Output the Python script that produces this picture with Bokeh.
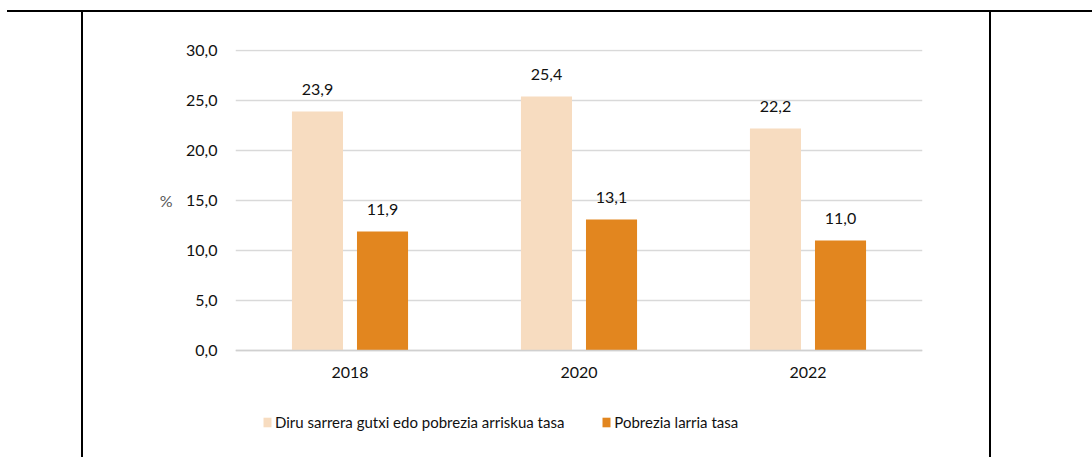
from bokeh.plotting import figure
from bokeh.models import (FactorRange, Range1d, ColumnDataSource, LabelSet, Legend,
                          LegendItem, FixedTicker, LinearAxis)
from bokeh.transform import dodge
from bokeh.core.properties import value
from bokeh.embed import file_html
from bokeh.resources import INLINE

years = ["2018", "2020", "2022"]
risk_rate = [23.9, 25.4, 22.2]
severe_rate = [11.9, 13.1, 11.0]
y_ticks = [0, 5, 10, 15, 20, 25, 30]
unit_label = "%"
series_names = ["Diru sarrera gutxi edo pobrezia arriskua tasa", "Pobrezia larria tasa"]

LIGHT = "#F7DCC0"
DARK = "#E2861F"
FONT = "Lato"
TXT = "#111111"

def fmt(v):
    return f"{v:.1f}".replace(".", ",")

src = ColumnDataSource(dict(
    year=years,
    risk=risk_rate,
    severe=severe_rate,
    risk_lbl=[fmt(v) for v in risk_rate],
    severe_lbl=[fmt(v) for v in severe_rate],
))

# frame spans 49..457 px vertically; 10 px per unit, zero at 350 px
p = figure(width=1092, height=457, x_range=FactorRange(*years, range_padding=0),
           y_range=Range1d(-10.7, 30.1), output_backend="svg", toolbar_location=None,
           min_border_left=235, min_border_right=170, min_border_top=49,
           min_border_bottom=0)
p.outline_line_color = None
p.background_fill_color = "white"
p.border_fill_color = "white"

off = 0.142
bw = 0.223
r1 = p.vbar(x=dodge("year", -off, range=p.x_range), top="risk", width=bw, source=src,
            fill_color=LIGHT, line_color=None)
r2 = p.vbar(x=dodge("year", off, range=p.x_range), top="severe", width=bw, source=src,
            fill_color=DARK, line_color=None)

for col, lbl, o in (("risk", "risk_lbl", -off), ("severe", "severe_lbl", off)):
    ls = LabelSet(x=dodge("year", o, range=p.x_range), y=col, text=lbl, source=src,
                  text_align="center", text_baseline="alphabetic", y_offset=17,
                  text_font=value(FONT), text_font_size="16px", text_color=TXT)
    p.add_layout(ls)

# axes
p.xgrid.grid_line_color = None
p.ygrid.grid_line_color = "#D9D9D9"
p.ygrid.grid_line_width = 1.5
p.yaxis.ticker = FixedTicker(ticks=y_ticks)
p.yaxis.major_label_overrides = {t: fmt(t) for t in y_ticks}
p.yaxis.axis_line_color = None
p.yaxis.major_tick_line_color = None
p.yaxis.minor_tick_line_color = None
p.yaxis.major_tick_out = 0
p.yaxis.major_tick_in = 0
p.yaxis.major_label_standoff = 18
p.yaxis.major_label_text_font = FONT
p.yaxis.major_label_text_font_size = "16px"
p.yaxis.major_label_text_color = TXT

# unit label "%" beside the middle of the value axis
unit_axis = LinearAxis(ticker=FixedTicker(ticks=[15]), major_label_overrides={15: unit_label},
                       axis_line_color=None, major_tick_line_color=None,
                       minor_tick_line_color=None, major_tick_out=0, major_tick_in=0,
                       major_label_standoff=11, major_label_text_font=FONT,
                       major_label_text_font_size="16px", major_label_text_color="#595959")
p.add_layout(unit_axis, "left")

p.xaxis.fixed_location = 0
p.xaxis.axis_line_color = "#D0D0D0"
p.xaxis.axis_line_width = 1.5
p.xaxis.major_tick_line_color = None
p.xaxis.minor_tick_line_color = None
p.xaxis.major_tick_out = 0
p.xaxis.major_tick_in = 0
p.xaxis.major_label_standoff = 16
p.xaxis.major_label_text_font = FONT
p.xaxis.major_label_text_font_size = "16px"
p.xaxis.major_label_text_color = TXT

legend = Legend(items=[LegendItem(label=series_names[0], renderers=[r1]),
                       LegendItem(label=series_names[1], renderers=[r2])],
                orientation="horizontal", location=(27, 26), padding=0, margin=0,
                spacing=37, glyph_width=10, glyph_height=12, label_standoff=3,
                label_text_font=FONT, label_text_font_size="15px", label_text_color=TXT,
                background_fill_alpha=0, border_line_color=None)
p.add_layout(legend, "center")

# surrounding table-cell rules (page decoration, outside the chart)
rules = (
    '<div style="position:absolute;left:7px;top:10px;width:1085px;height:2px;'
    'background:#000;pointer-events:none;z-index:10"></div>'
    '<div style="position:absolute;left:81px;top:10px;width:2px;height:447px;'
    'background:#000;pointer-events:none;z-index:10"></div>'
    '<div style="position:absolute;left:989px;top:10px;width:2px;height:447px;'
    'background:#000;pointer-events:none;z-index:10"></div>'
)
html = file_html(p, INLINE).replace("</body>", rules + "</body>")
open("out.html", "w").write(html)
